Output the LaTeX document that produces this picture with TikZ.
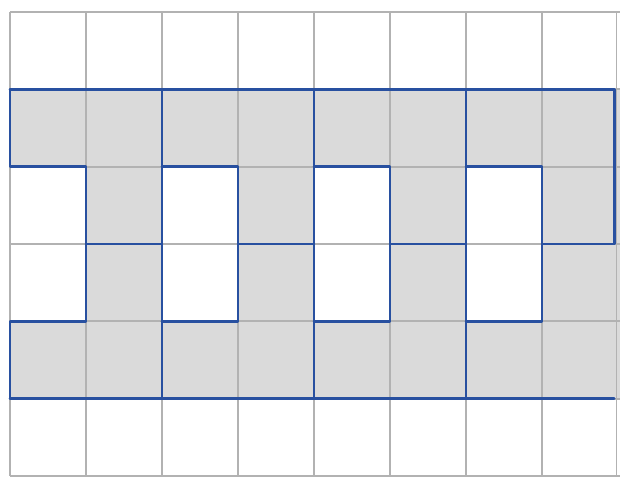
\documentclass[tikz,border=0pt]{standalone}
\usepackage{tikz}
\usepackage{xcolor}
\definecolor{PenBlue}{RGB}{40,80,160}
\definecolor{PaperGray}{RGB}{178,178,178}
\definecolor{PencilGray}{RGB}{218,218,218}

\begin{document}
\begin{tikzpicture}[
x=1.9cm,
y=1.9333cm,
gridline/.style={
draw=PaperGray,
line width=1.3pt
},
shade/.style={
fill=PencilGray
},
outline/.style={
draw=PenBlue,
line width=1.8pt,
line cap=round,
line join=round
}
]

\useasboundingbox (-0.1316,-0.0647) rectangle (8.026,6.155);

\fill[shade] (0,4) rectangle (8.03,5);
\fill[shade] (0,1) rectangle (8.03,2);
\fill[shade] (1,2) rectangle (2,4);
\fill[shade] (3,2) rectangle (4,4);
\fill[shade] (5,2) rectangle (6,4);
\fill[shade] (7,2) rectangle (8.03,4);

\draw[gridline] (0,0) -- (0,6);
\draw[gridline] (1,0) -- (1,6);
\draw[gridline] (2,0) -- (2,6);
\draw[gridline] (3,0) -- (3,6);
\draw[gridline] (4,0) -- (4,6);
\draw[gridline] (5,0) -- (5,6);
\draw[gridline] (6,0) -- (6,6);
\draw[gridline] (7,0) -- (7,6);
\draw[gridline] (7.98,0) -- (7.98,6);
\draw[gridline] (0,0) -- (8.03,0);
\draw[gridline] (0,1) -- (8.03,1);
\draw[gridline] (0,2) -- (8.03,2);
\draw[gridline] (0,3) -- (8.03,3);
\draw[gridline] (0,4) -- (8.03,4);
\draw[gridline] (0,5) -- (8.03,5);
\draw[gridline] (0,6) -- (8.03,6);

\draw[outline] (0,5) -- (7.95,5);
\draw[outline] (0,1) -- (7.95,1);
\draw[outline] (0,5) -- (0,4) -- (1,4) -- (1,2) -- (0,2) -- (0,1);
\draw[outline] (1,3) -- (2,3);
\draw[outline] (2,5) -- (2,1);
\draw[outline] (2,4) -- (3,4) -- (3,2) -- (2,2);
\draw[outline] (3,3) -- (4,3);
\draw[outline] (4,5) -- (4,1);
\draw[outline] (4,4) -- (5,4) -- (5,2) -- (4,2);
\draw[outline] (5,3) -- (6,3);
\draw[outline] (6,5) -- (6,1);
\draw[outline] (6,4) -- (7,4) -- (7,2) -- (6,2);
\draw[outline] (7,3) -- (7.95,3) -- (7.95,5);

\end{tikzpicture}
\end{document}
